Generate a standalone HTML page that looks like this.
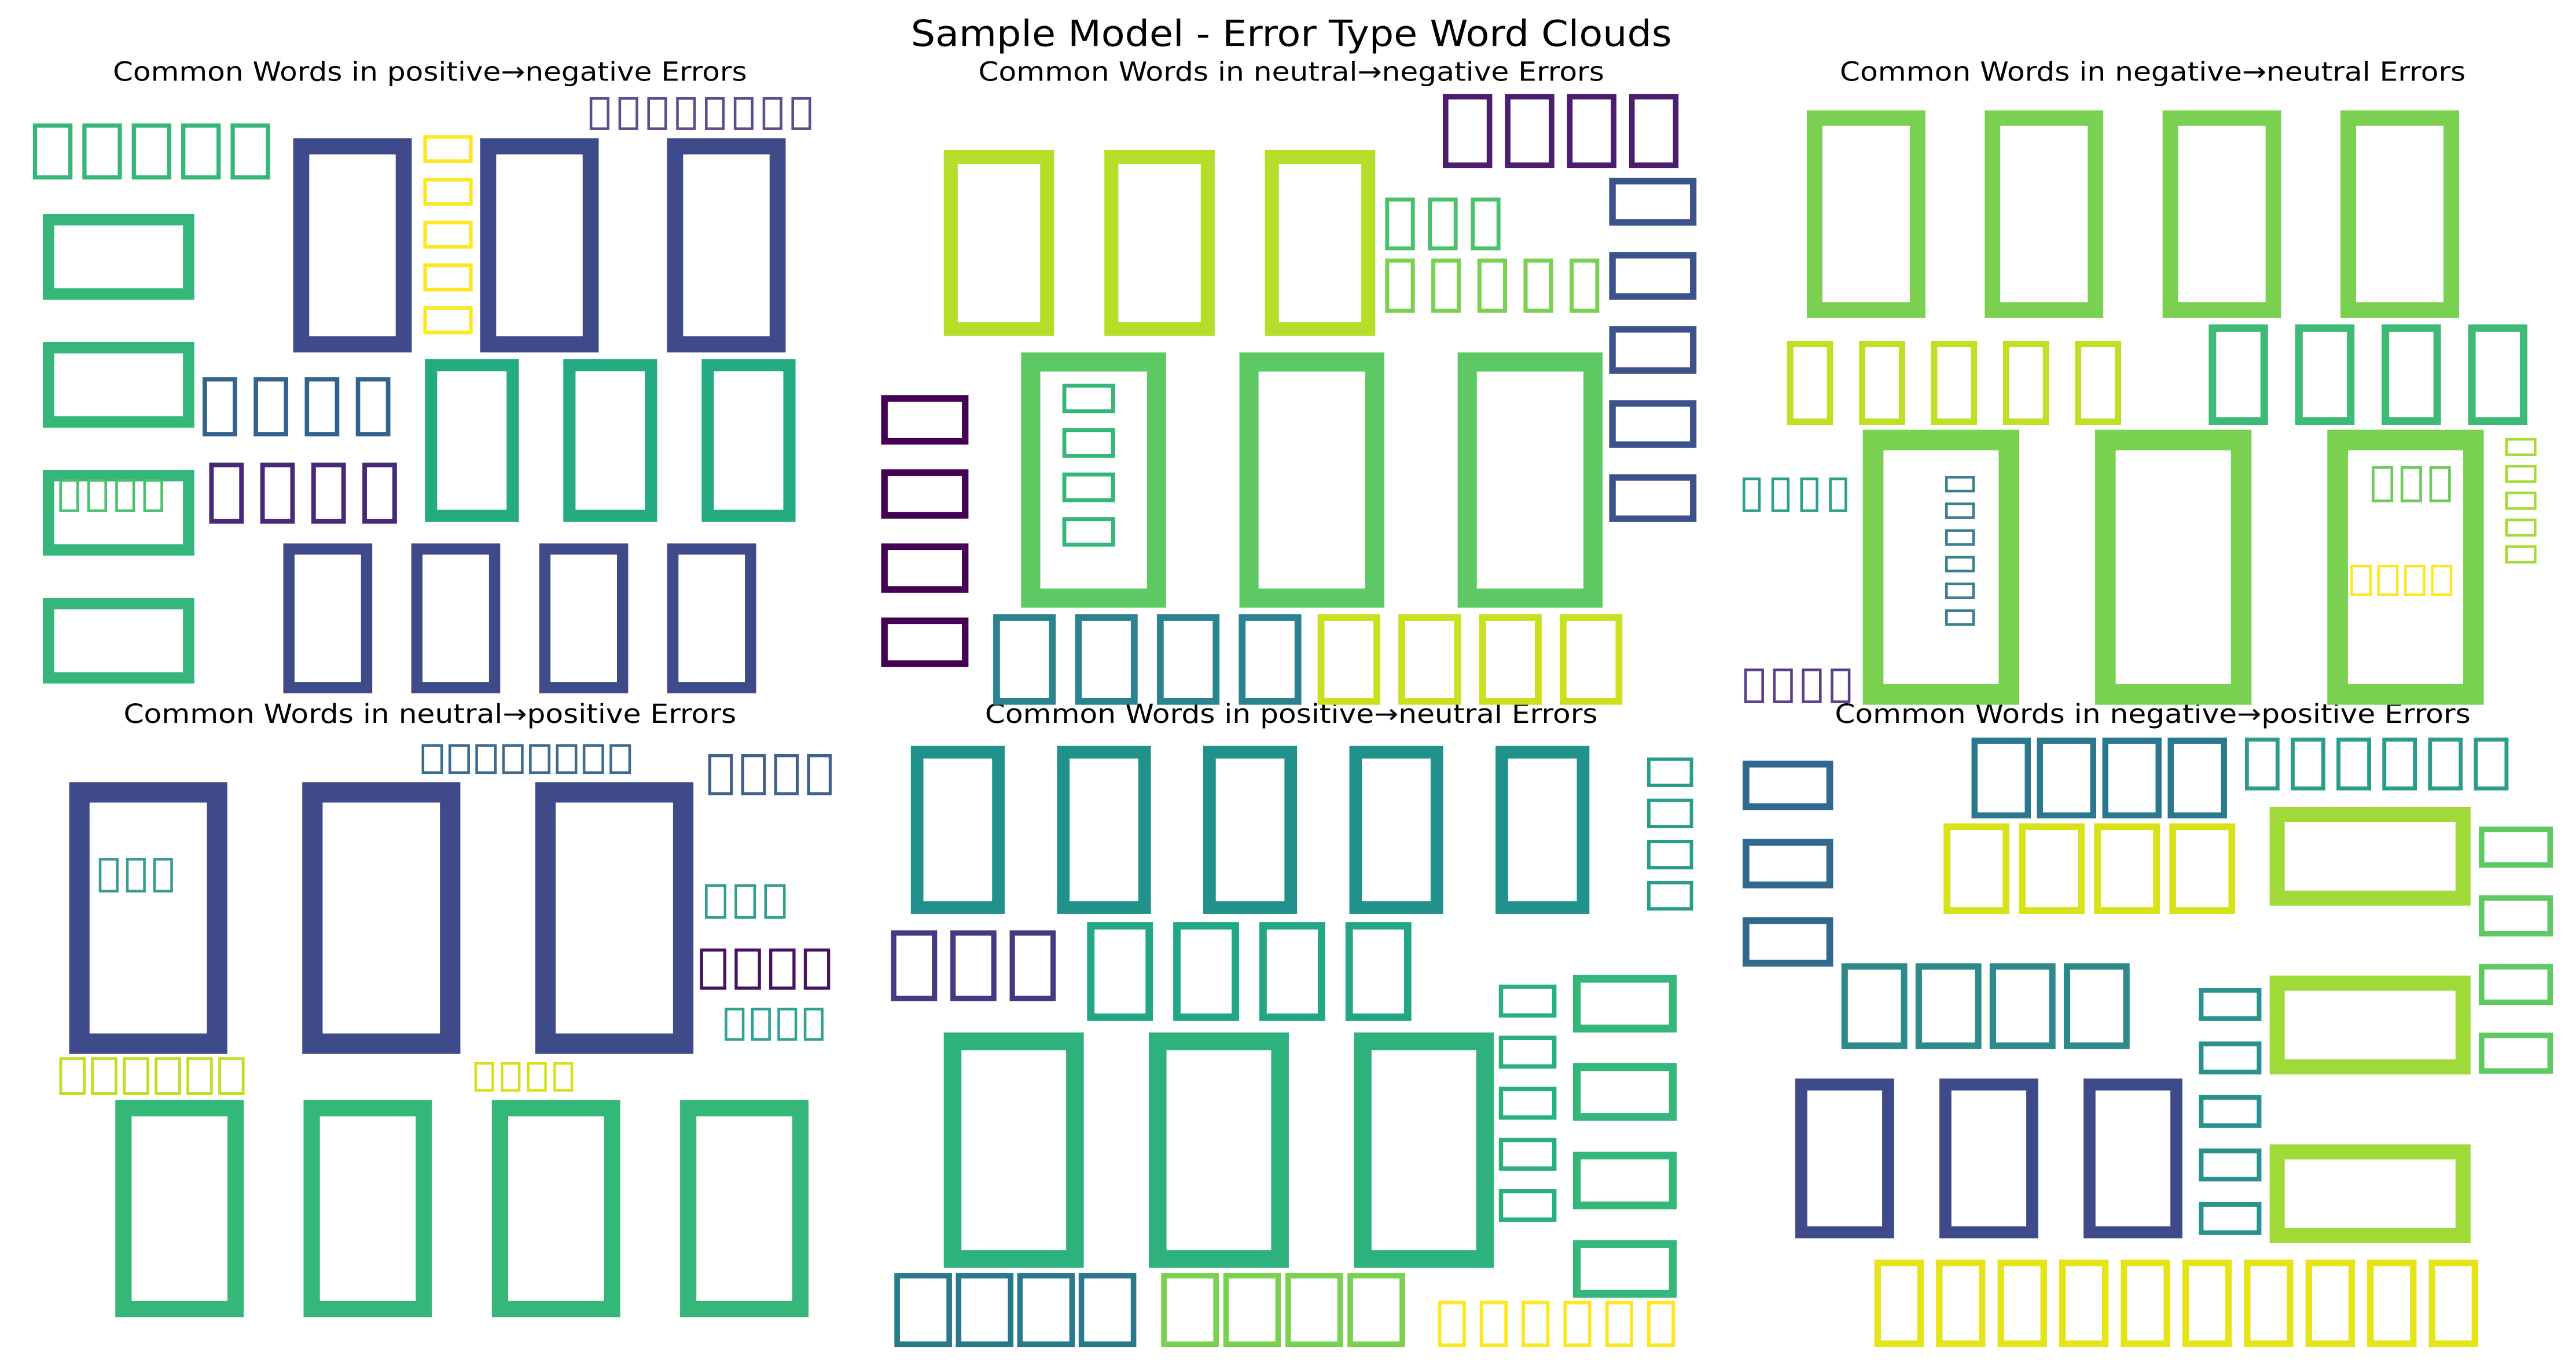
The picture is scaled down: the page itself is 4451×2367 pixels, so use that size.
<!DOCTYPE html>
<html><head><meta charset="utf-8">
<style>
html,body{margin:0;padding:0;background:#fff;}
svg{display:block;}
text{font-family:"DejaVu Sans","Liberation Sans",sans-serif;fill:#000;}
</style></head>
<body>
<svg id="s" xmlns="http://www.w3.org/2000/svg" width="4451" height="2367" viewBox="0 0 1564 832" preserveAspectRatio="none">
<rect width="1564" height="832" fill="#fff"/>
<text x="784" y="28" font-size="22" text-anchor="middle" textLength="462" lengthAdjust="spacingAndGlyphs">Sample Model - Error Type Word Clouds</text>
<text x="261" y="49" font-size="16" text-anchor="middle" textLength="385" lengthAdjust="spacingAndGlyphs">Common Words in positive→negative Errors</text>
<text x="784" y="49" font-size="16" text-anchor="middle" textLength="380" lengthAdjust="spacingAndGlyphs">Common Words in neutral→negative Errors</text>
<text x="1307" y="49" font-size="16" text-anchor="middle" textLength="380" lengthAdjust="spacingAndGlyphs">Common Words in negative→neutral Errors</text>
<text x="261" y="439" font-size="16" text-anchor="middle" textLength="372" lengthAdjust="spacingAndGlyphs">Common Words in neutral→positive Errors</text>
<text x="784" y="439" font-size="16" text-anchor="middle" textLength="372" lengthAdjust="spacingAndGlyphs">Common Words in positive→neutral Errors</text>
<text x="1307" y="439" font-size="16" text-anchor="middle" textLength="386" lengthAdjust="spacingAndGlyphs">Common Words in negative→positive Errors</text>
<g id="g"></g>
</svg>
<script>
var W=[
[20,75,24,34,30,5,'h','#35b779'],
[178,84,72,130,113.5,3,'h','#3e4a89'],
[257,82,30,17,26,5,'v','#fde725'],
[358,59,12,20,17.5,8,'h','#5c4d8f'],
[26,130,92,52,77.7,4,'v','#35b779'],
[123,229,21,36,31,4,'h','#33638d'],
[36,291,12,20,17,4,'h','#4ac16d'],
[127,281,21,37,31,4,'h','#482878'],
[258,218,57,99,84,3,'h','#25ab82'],
[172,330,54,91,77.7,4,'h','#3e4a89'],

[573,91,67,113,97.5,3,'h','#b5de2b'],
[876,57,30,45,37.7,4,'h','#4b1d6f'],
[841,120,18,32,26,3,'h','#4ac16d'],
[841,157,18,33,28,5,'h','#7ad151'],
[977,108,53,29,45,5,'v','#3b528b'],
[620,214,88,155,132.5,3,'h','#5ec962'],
[645,233,32,18,27,4,'v','#35b779'],
[535,240,53,30,45,4,'v','#440154'],
[603,373,38,55,49.7,4,'h','#2a838e'],
[800,373,38,55,49,4,'h','#c8e020'],

[1097,67,72,126,108,4,'h','#7ad151'],
[1085,207,28,51,43.7,5,'h','#c2df23'],
[1341,197,36,61,52.5,4,'h','#3dbb76'],
[1131,261,95,167,141,3,'h','#7ad151'],
[1058,290,11,21,17.5,4,'h','#2ba08a'],
[1181,289,18,10,16.2,6,'v','#3a7f94'],
[1440,283,13,22,17.5,3,'h','#6dcc5b'],
[1427,343,13,19,16.3,4,'h','#fde725'],
[1521,266,19,11,16.3,5,'v','#a5db36'],
[1059,406,12,21,17.5,4,'h','#5a3f8a'],

[42,475,96,165,141.5,3,'h','#3e4a89'],
[60,521,12,21,16.5,3,'h','#3a9b8f'],
[256,452,13,18,16.3,8,'h','#3d6b8e'],
[430,458,15,25,20,4,'h','#3e618d'],
[428,537,13,21,18,3,'h','#2f9e8a'],
[425,576,16,25,21,4,'h','#471164'],
[440,612,12,20,16,4,'h','#2ea393'],
[36,642,16,23,19.3,6,'h','#c0df25'],
[288,645,12,18,16,4,'h','#d5e21a'],
[70,668,78,132,114.3,4,'h','#35b779'],

[553,453,57,102,88.75,5,'h','#21918c'],
[1000,460,28,18,25,4,'v','#2a9c8a'],
[541,565,28,43,36,3,'h','#443a83'],
[660,560,40,60,52.3,4,'h','#22a785'],
[573,627,85,143,124.5,3,'h','#2db27d'],
[910,598,35,20,31,5,'v','#2ab07f'],
[955,592,63,35,53.7,4,'v','#35b779'],
[543,773,35,45,37.3,4,'h','#2a788e'],
[705,773,35,45,37.7,4,'h','#7ad151'],
[873,790,17,28,25.4,6,'h','#fde725'],

[1058,462,55,30,47.5,3,'v','#31688e'],
[1197,448,36,49,39.7,4,'h','#2a788e'],
[1363,448,21,32,27.8,6,'h','#2a9c8a'],
[1180,500,40,55,45.7,4,'h','#d8e219'],
[1378,490,122,60,102.5,3,'v','#a0da39'],
[1505,502,45,25,41.7,4,'v','#5ec962'],
[1118,585,40,52,45,4,'h','#2c8a8a'],
[1335,600,38,20,32.5,5,'v','#2a918b'],
[1090,655,60,97,87.5,3,'h','#3e4a89'],
[1138,765,30,53,37.4,10,'h','#e5e419']
];
var g=document.getElementById('g'),ns='http://www.w3.org/2000/svg';
W.forEach(function(w){
  var x=w[0],y=w[1],bw=w[2],bh=w[3],a=w[4],n=w[5],d=w[6],c=w[7];
  var s=Math.max(1.6,Math.max(bw,bh)*0.075);
  for(var i=0;i<n;i++){
    var rx=d=='h'?x+i*a:x, ry=d=='h'?y:y+i*a;
    var r=document.createElementNS(ns,'rect');
    r.setAttribute('x',rx+s/2);r.setAttribute('y',ry+s/2);
    r.setAttribute('width',Math.max(0.1,bw-s));r.setAttribute('height',Math.max(0.1,bh-s));
    r.setAttribute('fill','none');r.setAttribute('stroke',c);r.setAttribute('stroke-width',s);
    g.appendChild(r);
  }
});
</script>
</body></html>
